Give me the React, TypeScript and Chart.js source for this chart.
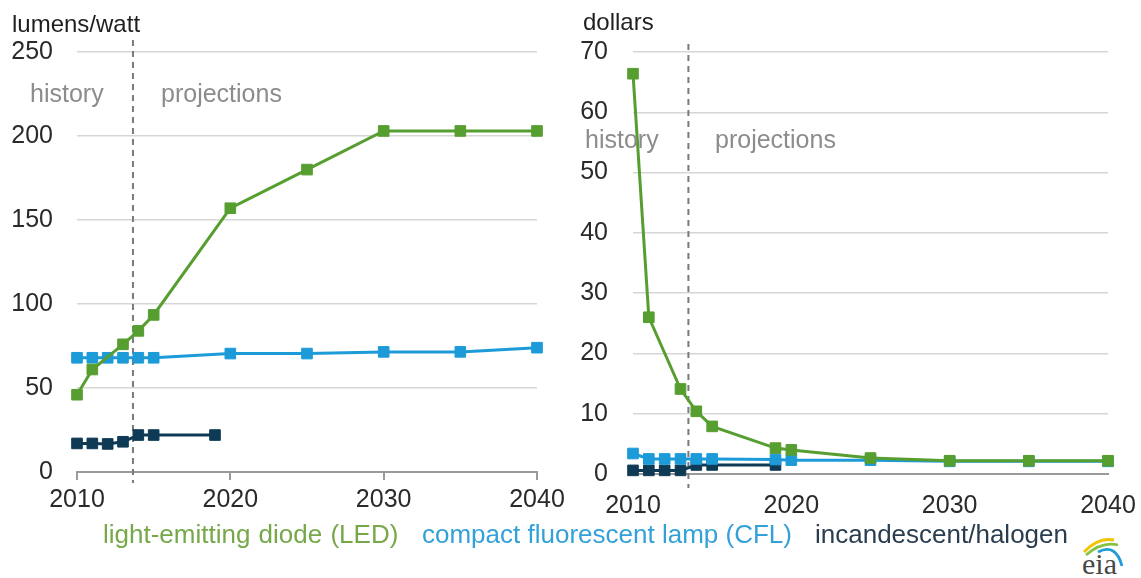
import React, { useEffect, useRef } from 'react';
import { Chart, registerables } from 'chart.js';

Chart.register(...registerables);

const FONT = '"Liberation Sans", Arial, sans-serif';

// ---- axis ticks ----
const xTickValues = [2010, 2020, 2030, 2040];
const effTickValues = [0, 50, 100, 150, 200, 250];
const costTickValues = [0, 10, 20, 30, 40, 50, 60, 70];

// ---- efficiency (lumens/watt) ----
const ledEffYears = [2010, 2011, 2013, 2014, 2015, 2020, 2025, 2030, 2035, 2040];
const ledEff = [46, 61, 76, 84, 93.5, 157, 180, 203, 203, 203];
const cflEffYears = [2010, 2011, 2012, 2013, 2014, 2015, 2020, 2025, 2030, 2035, 2040];
const cflEff = [68, 68, 68, 68, 68, 68, 70.5, 70.5, 71.5, 71.5, 74];
const incEffYears = [2010, 2011, 2012, 2013, 2014, 2015, 2019];
const incEff = [17, 17, 16.7, 18, 22, 22, 22];

// ---- cost (dollars) ----
const ledCostYears = [2010, 2011, 2013, 2014, 2015, 2019, 2020, 2025, 2030, 2035, 2040];
const ledCost = [66.4, 26, 14.1, 10.4, 7.9, 4.3, 4.0, 2.65, 2.2, 2.2, 2.2];
const cflCostYears = [2010, 2011, 2012, 2013, 2014, 2015, 2019, 2020, 2025, 2030, 2035, 2040];
const cflCost = [3.4, 2.5, 2.5, 2.5, 2.5, 2.5, 2.4, 2.3, 2.3, 2.1, 2.1, 2.1];
const incCostYears = [2010, 2011, 2012, 2013, 2014, 2015, 2019];
const incCost = [0.6, 0.6, 0.6, 0.6, 1.5, 1.5, 1.5];

// history / projections divider (year)
const dividerEff = 2013.65;
const dividerCost = 2013.5;

const LED_COLOR = '#569e30';
const CFL_COLOR = '#1c9bd8';
const INC_COLOR = '#0e3a55';

function series(label: string, years: number[], vals: number[], color: string) {
  return {
    label,
    data: years.map((y, i) => ({ x: y, y: vals[i] })),
    borderColor: color,
    backgroundColor: color,
    borderWidth: 3,
    pointStyle: 'rect',
    pointRadius: 7.5,
    pointBorderWidth: 1,
    pointBackgroundColor: color,
    pointBorderColor: color,
    tension: 0,
    clip: false,
  };
}

function dividerPlugin(xValue: number, extTop: number, extBottom: number) {
  return {
    id: 'divider',
    beforeDatasetsDraw(chart: any) {
      const { ctx, chartArea, scales } = chart;
      const px = scales.x.getPixelForValue(xValue);
      ctx.save();
      ctx.strokeStyle = '#7a7a7a';
      ctx.lineWidth = 2;
      ctx.setLineDash([6, 5]);
      ctx.beginPath();
      ctx.moveTo(px, chartArea.top - extTop);
      ctx.lineTo(px, chartArea.bottom + extBottom);
      ctx.stroke();
      ctx.restore();
    },
  };
}

function makeConfig(p: {
  datasets: any[];
  yTicks: number[];
  yWidth: number;
  xHeight: number;
  padRight: number;
  tickColor: string;
  tickLength: number;
  xPad: number;
  yPad: number;
  divider: number;
  extTop: number;
  extBottom: number;
}) {
  return {
    type: 'line',
    data: { datasets: p.datasets },
    options: {
      responsive: false,
      animation: false,
      devicePixelRatio: 1,
      layout: { padding: { top: 52, right: p.padRight, left: 0, bottom: 0 } },
      plugins: { legend: { display: false }, tooltip: { enabled: false } },
      scales: {
        x: {
          type: 'linear',
          min: xTickValues[0],
          max: xTickValues[xTickValues.length - 1],
          afterBuildTicks: (s: any) => {
            s.ticks = xTickValues.map((v) => ({ value: v }));
          },
          afterFit: (s: any) => {
            s.height = p.xHeight;
          },
          grid: {
            drawOnChartArea: false,
            drawTicks: true,
            tickLength: p.tickLength,
            tickColor: p.tickColor,
            color: '#9a9a9a',
            lineWidth: 2,
          },
          border: { display: true, color: '#9a9a9a', width: 2 },
          ticks: {
            font: { family: FONT, size: 25 },
            color: '#2a2a2a',
            padding: p.xPad,
            maxRotation: 0,
            autoSkip: false,
            callback: (v: any) => String(v),
          },
        },
        y: {
          type: 'linear',
          min: p.yTicks[0],
          max: p.yTicks[p.yTicks.length - 1],
          afterBuildTicks: (s: any) => {
            s.ticks = p.yTicks.map((v) => ({ value: v }));
          },
          afterFit: (s: any) => {
            s.width = p.yWidth;
          },
          grid: { color: '#d6d6d6', lineWidth: 1.5, drawTicks: false },
          border: { display: false },
          ticks: {
            font: { family: FONT, size: 25 },
            color: '#2a2a2a',
            padding: p.yPad,
            callback: (v: any) => String(v),
          },
        },
      },
    },
    plugins: [dividerPlugin(p.divider, p.extTop, p.extBottom)],
  };
}

function Txt(props: { x: number; base: number; size: number; color: string; children: any; serif?: boolean; ws?: number; ls?: number }) {
  const k = props.serif ? 0.8375 : 0.8465;
  return (
    <div
      style={{
        position: 'absolute',
        left: props.x,
        top: props.base - k * props.size,
        fontSize: props.size,
        lineHeight: 1,
        color: props.color,
        fontFamily: props.serif ? '"Liberation Serif", "Times New Roman", serif' : FONT,
        whiteSpace: 'pre',
        wordSpacing: props.ws ?? 0,
        letterSpacing: props.ls ?? 0,
      }}
    >
      {props.children}
    </div>
  );
}

export default function App() {
  const leftRef = useRef<HTMLCanvasElement>(null);
  const rightRef = useRef<HTMLCanvasElement>(null);

  useEffect(() => {
    const left = new Chart(
      leftRef.current as HTMLCanvasElement,
      makeConfig({
        datasets: [
          series('light-emitting diode (LED)', ledEffYears, ledEff, LED_COLOR),
          series('compact fluorescent lamp (CFL)', cflEffYears, cflEff, CFL_COLOR),
          series('incandescent/halogen', incEffYears, incEff, INC_COLOR),
        ],
        yTicks: effTickValues,
        yWidth: 77,
        xHeight: 58,
        padRight: 33,
        tickColor: '#9a9a9a',
        tickLength: 8,
        xPad: 5,
        yPad: 24,
        divider: dividerEff,
        extTop: 12,
        extBottom: 11,
      }) as any
    );
    const right = new Chart(
      rightRef.current as HTMLCanvasElement,
      makeConfig({
        datasets: [
          series('light-emitting diode (LED)', ledCostYears, ledCost, LED_COLOR),
          series('compact fluorescent lamp (CFL)', cflCostYears, cflCost, CFL_COLOR),
          series('incandescent/halogen', incCostYears, incCost, INC_COLOR),
        ],
        yTicks: costTickValues,
        yWidth: 63,
        xHeight: 56,
        padRight: 33,
        tickColor: 'rgba(0,0,0,0)',
        tickLength: 12,
        xPad: 5,
        yPad: 25,
        divider: dividerCost,
        extTop: 8,
        extBottom: 14,
      }) as any
    );
    return () => {
      left.destroy();
      right.destroy();
    };
  }, []);

  return (
    <div
      style={{
        position: 'absolute',
        left: 0,
        top: 0,
        width: 1141,
        height: 578,
        background: '#ffffff',
        overflow: 'hidden',
        fontFamily: FONT,
      }}
    >
      <canvas ref={leftRef} width={570} height={530} style={{ position: 'absolute', left: 0, top: 0 }} />
      <canvas ref={rightRef} width={571} height={530} style={{ position: 'absolute', left: 570, top: 0 }} />

      <Txt x={12} base={32} size={24} color="#1f1f1f">lumens/watt</Txt>
      <Txt x={583} base={30} size={24} color="#1f1f1f">dollars</Txt>

      <Txt x={30} base={102} size={25} color="#8c8c8c">history</Txt>
      <Txt x={161} base={102} size={25} color="#8c8c8c">projections</Txt>
      <Txt x={585} base={148} size={25} color="#8c8c8c">history</Txt>
      <Txt x={715} base={148} size={25} color="#8c8c8c">projections</Txt>

      <Txt x={103} base={543} size={26} color="#76a84a" ws={1}>light-emitting diode (LED)</Txt>
      <Txt x={422} base={543} size={26} color="#33a1d9">compact fluorescent lamp (CFL)</Txt>
      <Txt x={815} base={543} size={26} color="#2a3d50">incandescent/halogen</Txt>

      <svg
        width={60}
        height={40}
        style={{ position: 'absolute', left: 1076, top: 533 }}
        viewBox="0 0 60 40"
      >
        <path d="M 8 19 Q 22 4 38 7" stroke="#f2c300" strokeWidth={2.8} fill="none" />
        <path d="M 10 22 Q 26 8 42 12" stroke="#86c23f" strokeWidth={2.8} fill="none" />
        <path d="M 22 19 Q 40 10 46 33" stroke="#1f9bd7" strokeWidth={2.8} fill="none" />
      </svg>
      <Txt x={1082} base={574} size={30} color="#474747" serif>eia</Txt>
    </div>
  );
}
